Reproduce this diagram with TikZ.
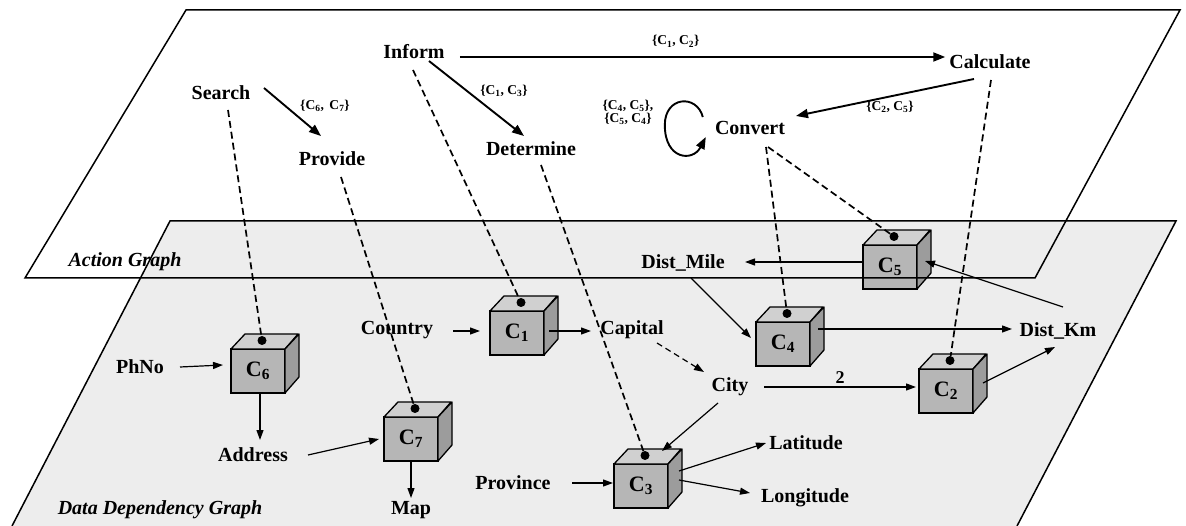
\documentclass[tikz,border=0pt]{standalone}
\usepackage{fontspec}
\setmainfont{Liberation Serif}
\usetikzlibrary{arrows.meta,calc}

\definecolor{planegray}{HTML}{EDEDED}
\definecolor{cubefrontc}{HTML}{B6B6B6}
\definecolor{cubetopc}{HTML}{D0D0D0}
\definecolor{cubesidec}{HTML}{9C9C9C}

% a component cube: name, x, y, index
\newcommand\compcube[4]{%
  \node[cubefront] (#1) at (#2,#3) {C\textsubscript{#4}};
  \filldraw[cubeedge, fill=cubetopc] (#1.north west) -- ++(14,-15) -- ++(53,0) -- (#1.north east) -- cycle;
  \filldraw[cubeedge, fill=cubesidec] (#1.north east) -- ++(14,-15) -- ++(0,43) -- (#1.south east) -- cycle;
  \node[cubedot] (#1d) at ($(#1.north)+(4,-8.5)$) {};
}

\begin{document}
\begin{tikzpicture}[x=1pt,y=-1pt,
  lbl/.style={font=\fontsize{20}{24}\selectfont\bfseries, inner sep=0pt},
  ttl/.style={font=\fontsize{20}{24}\selectfont\bfseries\itshape, inner sep=0pt},
  set/.style={font=\fontsize{13.5}{14}\selectfont\bfseries, inner sep=0pt, align=center},
  cubefront/.style={draw, line width=1.3pt, fill=cubefrontc, minimum width=54pt, minimum height=44pt,
    inner sep=0pt, outer sep=0pt, font=\fontsize{22}{24}\selectfont\bfseries},
  cubeedge/.style={line width=1.3pt, line join=round},
  cubedot/.style={circle, fill=black, minimum size=9pt, inner sep=0pt},
  arr/.style={-{Triangle[length=10pt,width=7pt]}, line width=1.2pt},
  bigarr/.style={-{Triangle[length=12pt,width=9pt]}, line width=1.9pt},
  link/.style={dash pattern=on 7pt off 4pt, line width=1.7pt},
  plane/.style={line width=1.5pt, line join=miter}
]
\useasboundingbox (0,0) rectangle (1186,526);

% lower plane: data dependency graph
\fill[planegray] (170,221) -- (1176,221) -- (1017,526) -- (12,526) -- cycle;
\draw[plane] (12,526) -- (170,221) -- (1176,221) -- (1017,526);

% components
\compcube{c1}{517}{333}{1}
\compcube{c2}{946}{391}{2}
\compcube{c3}{641}{486}{3}
\compcube{c4}{783}{344}{4}
\compcube{c5}{890}{267}{5}
\compcube{c6}{258}{371}{6}
\compcube{c7}{411}{439}{7}

% data items
\node[lbl] (phno) at (140,367) {PhNo};
\node[lbl] (address) at (253,455) {Address};
\node[lbl] (map) at (411,510) {Map};
\node[lbl] (country) at (397,330) {Country};
\node[lbl] (capital) at (632,330) {Capital};
\node[lbl] (city) at (730,387) {City};
\node[lbl] (province) at (513,483) {Province};
\node[lbl] (latitude) at (806,443) {Latitude};
\node[lbl] (longitude) at (805,498) {Longitude};
\node[lbl] (distmile) at (683,263) {Dist\_Mile};
\node[lbl] (distkm) at (1058,331) {Dist\_Km};
\node[ttl] (ddg) at (160,510) {Data Dependency Graph};

% data flow
\draw[arr] ($(phno.center)+(40,0)$) -- ($(c6.west)+(-8,-6)$);
\draw[arr] ($(c6.south)+(2,0)$) -- ($(address.center)+(7,-15)$);
\draw[arr] ($(address.center)+(55,0)$) -- ($(c7.west)+(-5,0)$);
\draw[arr] (c7.south) -- ($(map.center)+(0,-12)$);
\draw[arr] ($(country.center)+(56,1)$) -- ($(c1.west)+(-10,-2)$);
\draw[arr] ($(c1.east)+(5,-2)$) -- ($(capital.center)+(-41,1)$);
\draw[arr, dash pattern=on 6pt off 4pt] ($(capital.center)+(25,13)$) -- ($(city.center)+(-26,-15)$);
\draw[arr] ($(city.center)+(34,0)$) -- node[above=3pt, font=\fontsize{18}{20}\selectfont\bfseries, inner sep=0pt] {2} ($(c2.west)+(-3,-4)$);
\draw[arr] ($(city.center)+(-12,16)$) -- ($(c3.north)+(21,-13)$);
\draw[arr] ($(province.center)+(59,0)$) -- ($(c3.west)+(-1,-3)$);
\draw[arr] ($(c3.east)+(11,-15)$) -- ($(latitude.center)+(-40,0)$);
\draw[arr] ($(c3.east)+(11,-6)$) -- ($(longitude.center)+(-55,-5)$);
\draw[arr] ($(c4.east)+(8,-15)$) -- ($(distkm.center)+(-46,-2)$);
\draw[arr] ($(c2.east)+(10,-8)$) -- ($(distkm.center)+(-3,16)$);
\draw[arr] ($(distkm.center)+(5,-24)$) -- ($(c5.east)+(8,-6)$);
\draw[arr] ($(c5.west)+(0,-5)$) -- ($(distmile.center)+(62,-1)$);
\draw[arr] ($(distmile.center)+(8,15)$) -- ($(c4.west)+(-5,-6)$);

% actions
\node[lbl] (inform) at (414,52) {Inform};
\node[lbl] (calculate) at (990,62) {Calculate};
\node[lbl] (search) at (221,93) {Search};
\node[lbl] (provide) at (332,159) {Provide};
\node[lbl] (determine) at (531,149) {Determine};
\node[lbl] (convert) at (750,128) {Convert};
\node[ttl] (ag) at (125,262) {Action Graph};

% action transitions
\draw[bigarr] ($(inform.east)+(15,5)$) -- node[set, above=9pt, pos=0.445] {\{C\textsubscript{1}, C\textsubscript{2}\}} ($(calculate.west)+(-4,-5)$);
\draw[bigarr] ($(search.center)+(43,-5)$) -- ($(provide.center)+(-11,-23)$);
\draw[bigarr] ($(inform.center)+(15,9)$) -- ($(determine.center)+(-7,-13)$);
\draw[bigarr] ($(calculate.center)+(-16,17)$) -- ($(convert.center)+(46,-12)$);
\draw[bigarr] ($(convert.west)+(-12,-11)$)
  .. controls ($(convert.west)+(-18,-34)$) and ($(convert.west)+(-50,-32)$) .. ($(convert.west)+(-50,-3)$)
  .. controls ($(convert.west)+(-50,32)$) and ($(convert.west)+(-22,34)$) .. ($(convert.west)+(-9,9)$);

\node[set] (s67) at (325,106) {\{C\textsubscript{6}, \,C\textsubscript{7}\}};
\node[set] (s13) at (504,91) {\{C\textsubscript{1}, C\textsubscript{3}\}};
\node[set] (s25) at (890,107) {\{C\textsubscript{2}, C\textsubscript{5}\}};
\node[set] (s45) at (628,112) {\{C\textsubscript{4}, C\textsubscript{5}\},\\[-1pt]\{C\textsubscript{5}, C\textsubscript{4}\}};

% action-to-component links
\draw[link] ($(search.center)+(7,17)$) -- (c6d);
\draw[link] ($(provide.center)+(9,18)$) -- (c7d);
\draw[link] ($(inform.center)+(-1,18)$) -- (c1d);
\draw[link] ($(determine.center)+(10,16)$) -- (c3d);
\draw[link] ($(convert.center)+(16,19)$) -- (c4d);
\draw[link] ($(convert.center)+(18,19)$) -- (c5d);
\draw[link] ($(calculate.center)+(1,18)$) -- (c2d);

% upper plane: action graph
\draw[plane] (186,10) -- (1180,10) -- (1035,278) -- (25,278) -- cycle;
\end{tikzpicture}
\end{document}
